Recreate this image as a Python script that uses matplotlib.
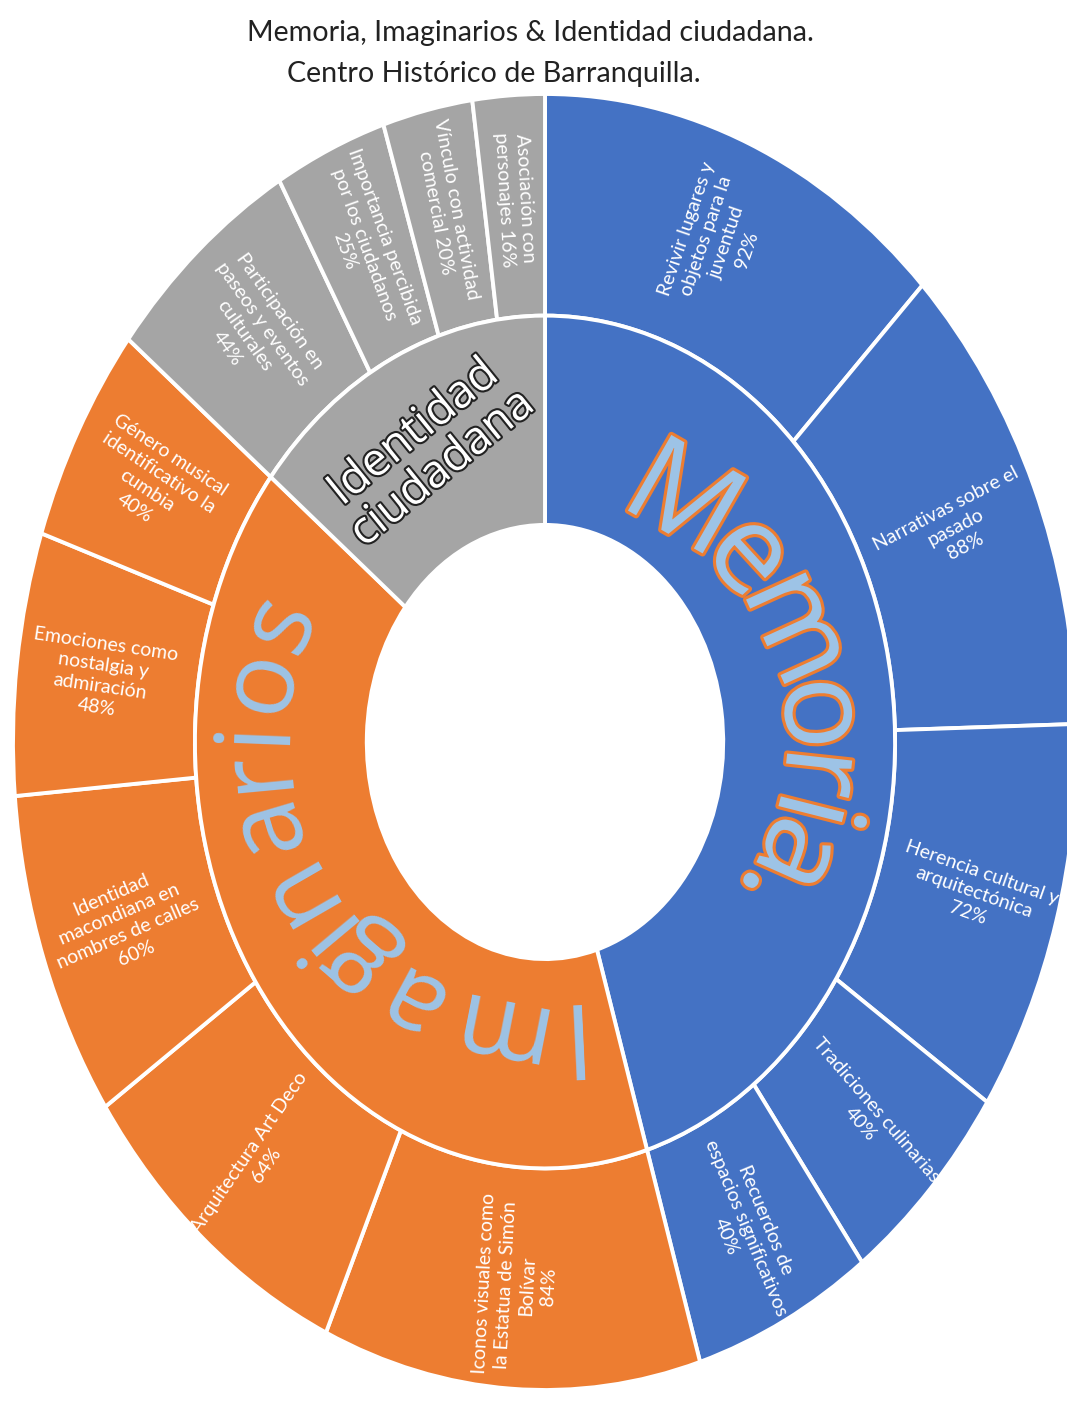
import numpy as np
import matplotlib
matplotlib.use('Agg')
import matplotlib.pyplot as plt
import matplotlib.patheffects as pe
from matplotlib.font_manager import FontProperties

# --- datos ---
titulo_1 = "Memoria, Imaginarios & Identidad ciudadana."
titulo_2 = "Centro Histórico de Barranquilla."

grupos = ["Memoria.", "Imaginarios", "Identidad\nciudadana"]
colores = ["#4472C4", "#ED7D31", "#A5A5A5"]

memoria_labels = ["Revivir lugares y\nobjetos para la\njuventud\n{}%",
                  "Narrativas sobre el\npasado\n{}%",
                  "Herencia cultural y\narquitectónica\n{}%",
                  "Tradiciones culinarias\n{}%",
                  "Recuerdos de\nespacios significativos\n{}%"]
memoria_vals = [92, 88, 72, 40, 40]

imag_labels = ["Iconos visuales como\nla Estatua de Simón\nBolívar\n{}%",
               "Arquitectura Art Deco\n{}%",
               "Identidad\nmacondiana en\nnombres de calles\n{}%",
               "Emociones como\nnostalgia y\nadmiración\n{}%",
               "Género musical\nidentificativo la\ncumbia\n{}%"]
imag_vals = [84, 64, 60, 48, 40]

ident_labels = ["Participación en\npaseos y eventos\nculturales\n{}%",
                "Importancia percibida\npor los ciudadanos\n{}%",
                "Vínculo con actividad\ncomercial {}%",
                "Asociación con\npersonajes {}%"]
ident_vals = [44, 25, 20, 16]

# --- geometria (px de la figura) ---
W, H = 1067, 1403
CX, CY = 545, 742          # centro del anillo
SX, SY = 532, 648          # radio exterior horizontal / vertical
R_MID, R_HOLE = 0.658, 0.335
R_LAB = 0.84

fig = plt.figure(figsize=(W / 100, H / 100), dpi=100)
ax = fig.add_axes([0, 0, 1, 1])

hijos = [memoria_vals, imag_vals, ident_vals]
outer_vals = memoria_vals + imag_vals + ident_vals
outer_cols = [c for c, h in zip(colores, hijos) for _ in h]
inner_vals = [sum(h) for h in hijos]

ax.pie(outer_vals, radius=1.0, colors=outer_cols, startangle=90, counterclock=False,
       wedgeprops=dict(width=1 - R_MID, edgecolor="white", linewidth=2.8))
ax.pie(inner_vals, radius=R_MID, colors=colores, startangle=90, counterclock=False,
       wedgeprops=dict(width=R_MID - R_HOLE, edgecolor="white", linewidth=2.8))
ax.set_aspect("auto")
ax.set_xlim(-CX / SX, (W - CX) / SX)
ax.set_ylim(-(H - CY) / SY, CY / SY)
ax.axis("off")

# etiquetas del anillo exterior
total = sum(outer_vals)
textos = [l.format(v) for l, v in zip(memoria_labels + imag_labels + ident_labels, outer_vals)]
inicio = 0.0
for txt, v in zip(textos, outer_vals):
    da = v / total * 2 * np.pi
    t = inicio + da / 2
    inicio += da
    rot = np.degrees(np.arctan2(SY * np.cos(t), SX * np.sin(t)))
    if rot > 90:
        rot -= 180
    if rot < -90:
        rot += 180
    ax.text(R_LAB * np.sin(t), R_LAB * np.cos(t), txt, rotation=rot, rotation_mode="anchor",
            ha="center", va="center", multialignment="center", color="white",
            fontsize=14, family="Lato", linespacing=1.3)


# texto curvo (WordArt) sobre un circulo en pixeles
def arc_text(texto, theta_c, R, size, track=1.0, weight="normal", **kw):
    renderer = fig.canvas.get_renderer()
    fp = FontProperties(family="Open Sans", size=size, weight=weight)

    def adv(s):
        # avance del texto, usando barras como topes para no medir solo la tinta
        ww = lambda q: renderer.get_text_width_height_descent(q, fp, ismath=False)[0]
        return ww("|" + s + "|") - ww("||")

    tot = adv(texto)
    Rs = R + 0.27 * size * 100 / 72
    for i, ch in enumerate(texto):
        c = ((adv(texto[:i]) + adv(texto[:i + 1])) / 2 - tot / 2) * track
        t = theta_c + c / Rs
        ax.text(R * np.sin(t) / SX, R * np.cos(t) / SY, ch, rotation=-np.degrees(t),
                rotation_mode="anchor", ha="center", va="baseline", fontproperties=fp, **kw)


arc_text(grupos[0], np.radians(73), 242, 88, track=0.95, color="#9DC3E6",
         path_effects=[pe.withStroke(linewidth=4.5, foreground="#ED7D31")])
arc_text(grupos[1], np.radians(237), 262, 75, track=1.12, color="#9DC3E6")

t_id = np.radians(334)
ax.text(0.50 * np.sin(t_id), 0.50 * np.cos(t_id), grupos[2], rotation=39, rotation_mode="anchor",
        ha="center", va="center", multialignment="center", color="white", fontsize=33,
        family="Open Sans", linespacing=1.0,
        path_effects=[pe.withStroke(linewidth=3, foreground="#222222")])

fig.text(530 / W, 1 - 33 / H, titulo_1, ha="center", va="center", fontsize=20.6,
         family="Lato", color="#222222")
fig.text(494 / W, 1 - 74 / H, titulo_2, ha="center", va="center", fontsize=20.6,
         family="Lato", color="#222222")

fig.savefig("out.png", dpi=100, facecolor="white")
